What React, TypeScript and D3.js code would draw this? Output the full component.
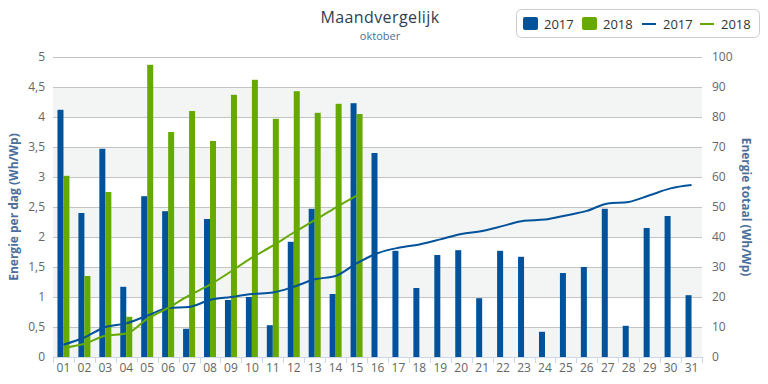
import React, { useEffect, useRef } from "react";
import { select, scaleLinear, scaleBand, line, curveMonotoneX, range } from "d3";

const days = range(1, 32).map(d => (d < 10 ? "0" + d : "" + d));

// dagelijkse energie (Wh/Wp)
const daily2017 = [
  4.12, 2.4, 3.47, 1.17, 2.68, 2.43, 0.47, 2.3, 0.95, 1.0, 0.53, 1.92, 2.47, 1.05, 4.23, 3.4,
  1.77, 1.15, 1.7, 1.78, 0.98, 1.77, 1.67, 0.42, 1.4, 1.5, 2.47, 0.52, 2.15, 2.35, 1.03,
];
const daily2018 = [3.02, 1.35, 2.75, 0.67, 4.87, 3.75, 4.1, 3.6, 4.37, 4.62, 3.97, 4.43, 4.07, 4.22, 4.05];

// totaal (Wh/Wp)
const total2017 = [
  4.1, 6.5, 10.0, 11.2, 13.8, 16.3, 16.7, 19.0, 20.0, 21.0, 21.5, 23.4, 25.9, 27.0, 31.2, 34.6,
  36.4, 37.5, 39.2, 41.0, 42.0, 43.7, 45.4, 45.8, 47.2, 48.7, 51.2, 51.7, 53.9, 56.2, 57.3,
];
const total2018 = [3.0, 4.4, 7.1, 7.8, 12.7, 16.4, 20.5, 24.1, 28.5, 33.1, 37.1, 41.5, 45.6, 49.8, 53.8];

const leftTicks = [0, 0.5, 1, 1.5, 2, 2.5, 3, 3.5, 4, 4.5, 5];
const rightTicks = [0, 10, 20, 30, 40, 50, 60, 70, 80, 90, 100];

const BLUE = "#00529b";
const GREEN = "#66aa00";
const FONT = "'Open Sans', sans-serif";

const App = () => {
  const ref = useRef<SVGSVGElement>(null);

  useEffect(() => {
    const svg = select(ref.current);
    svg.selectAll("*").remove();

    const width = 768;
    const height = 384;
    const margin = { top: 57, right: 66, bottom: 27, left: 53 };
    const x0 = margin.left;
    const x1 = width - margin.right;
    const y0 = height - margin.bottom;
    const y1 = margin.top;

    const x = scaleBand().domain(days).range([x0, x1]).padding(0);
    const yL = scaleLinear().domain([0, 5]).range([y0, y1]);
    const yR = scaleLinear().domain([0, 100]).range([y0, y1]);
    const cx = (d: string) => (x(d) as number) + x.bandwidth() / 2;

    // banden
    leftTicks.slice(0, -1).forEach((t, i) => {
      if (i % 2 === 0) {
        svg.append("rect")
          .attr("x", x0).attr("width", x1 - x0)
          .attr("y", yL(t + 0.5)).attr("height", yL(t) - yL(t + 0.5))
          .attr("fill", "#f3f5f5");
      }
    });

    // rasterlijnen
    leftTicks.forEach(t => {
      svg.append("line")
        .attr("x1", x0).attr("x2", x1)
        .attr("y1", Math.round(yL(t)) + 0.5).attr("y2", Math.round(yL(t)) + 0.5)
        .attr("stroke", "#c4c4c4").attr("stroke-width", 1);
      svg.append("text")
        .attr("x", x0 - 8).attr("y", yL(t) + 4)
        .attr("text-anchor", "end")
        .attr("font-size", 12).attr("fill", "#666")
        .attr("font-family", FONT)
        .text(String(t).replace(".", ","));
    });
    rightTicks.forEach(t => {
      svg.append("text")
        .attr("x", x1 + 10).attr("y", yR(t) + 4)
        .attr("text-anchor", "start")
        .attr("font-size", 12).attr("fill", "#666")
        .attr("font-family", FONT)
        .text(t);
    });

    // x-as
    svg.append("line")
      .attr("x1", x0).attr("x2", x1)
      .attr("y1", y0 + 0.5).attr("y2", y0 + 0.5)
      .attr("stroke", "#ccd6eb");
    days.forEach(d => {
      const xs = Math.round(x(d) as number) + 0.5;
      svg.append("line")
        .attr("x1", xs).attr("x2", xs)
        .attr("y1", y0).attr("y2", y0 + 6)
        .attr("stroke", "#ccd6eb");
      svg.append("text")
        .attr("x", cx(d)).attr("y", y0 + 15)
        .attr("text-anchor", "middle")
        .attr("font-size", 12).attr("fill", "#666")
        .attr("font-family", FONT)
        .text(d);
    });
    const xl = Math.round(x1) + 0.5;
    svg.append("line")
      .attr("x1", xl).attr("x2", xl)
      .attr("y1", y0).attr("y2", y0 + 6)
      .attr("stroke", "#ccd6eb");

    // staven
    const bw = 6;
    svg.selectAll(".b17")
      .data(daily2017)
      .enter()
      .append("rect")
      .attr("x", (d, i) => cx(days[i]) - bw)
      .attr("y", d => yL(d))
      .attr("width", bw)
      .attr("height", d => y0 - yL(d))
      .attr("fill", BLUE);
    svg.selectAll(".b18")
      .data(daily2018)
      .enter()
      .append("rect")
      .attr("x", (d, i) => cx(days[i]))
      .attr("y", d => yL(d))
      .attr("width", bw)
      .attr("height", d => y0 - yL(d))
      .attr("fill", GREEN);

    // lijnen
    const lineGen = line<number>()
      .x((d, i) => cx(days[i]))
      .y(d => yR(d))
      .curve(curveMonotoneX);
    svg.append("path")
      .datum(total2017)
      .attr("fill", "none")
      .attr("stroke", BLUE)
      .attr("stroke-width", 2)
      .attr("d", lineGen);
    svg.append("path")
      .datum(total2018)
      .attr("fill", "none")
      .attr("stroke", GREEN)
      .attr("stroke-width", 2)
      .attr("d", lineGen);

    // astitels
    svg.append("text")
      .attr("transform", `translate(18,${(y0 + y1) / 2}) rotate(-90)`)
      .attr("text-anchor", "middle")
      .attr("font-size", 12).attr("font-weight", "bold")
      .attr("fill", "#4a6f9a")
      .attr("font-family", FONT)
      .text("Energie per dag (Wh/Wp)");
    svg.append("text")
      .attr("transform", `translate(742,${(y0 + y1) / 2}) rotate(90)`)
      .attr("text-anchor", "middle")
      .attr("font-size", 12).attr("font-weight", "bold")
      .attr("fill", "#4a6f9a")
      .attr("font-family", FONT)
      .text("Energie totaal (Wh/Wp)");

    // titel
    svg.append("text")
      .attr("x", 380).attr("y", 23)
      .attr("text-anchor", "middle")
      .attr("font-size", 16).attr("fill", "#2f3e50")
      .attr("letter-spacing", 0.4)
      .attr("font-family", FONT)
      .text("Maandvergelijk");
    svg.append("text")
      .attr("x", 380).attr("y", 40)
      .attr("text-anchor", "middle")
      .attr("font-size", 11).attr("fill", "#4a6f9a")
      .attr("font-family", FONT)
      .text("oktober");

    // legenda
    const lg = svg.append("g").attr("transform", "translate(516,9)");
    lg.append("rect")
      .attr("x", 0.5).attr("y", 0.5).attr("width", 243).attr("height", 28)
      .attr("rx", 5).attr("fill", "#fff").attr("stroke", "#ccc");
    const items = [
      { label: "2017", color: BLUE, type: "bar", x: 7 },
      { label: "2018", color: GREEN, type: "bar", x: 66 },
      { label: "2017", color: BLUE, type: "line", x: 126 },
      { label: "2018", color: GREEN, type: "line", x: 184 },
    ];
    items.forEach(it => {
      if (it.type === "bar") {
        lg.append("rect")
          .attr("x", it.x).attr("y", 8).attr("width", 15).attr("height", 13)
          .attr("rx", 2).attr("fill", it.color);
      } else {
        lg.append("line")
          .attr("x1", it.x).attr("x2", it.x + 14)
          .attr("y1", 15).attr("y2", 15)
          .attr("stroke", it.color).attr("stroke-width", 2);
      }
      lg.append("text")
        .attr("x", it.x + 21).attr("y", 19.5)
        .attr("font-size", 13).attr("fill", "#333")
        .attr("font-family", FONT)
        .text(it.label);
    });
  }, []);

  return (
    <svg ref={ref} width={768} height={384} style={{ position: "absolute", left: 0, top: 0 }}></svg>
  );
};

export default App;
